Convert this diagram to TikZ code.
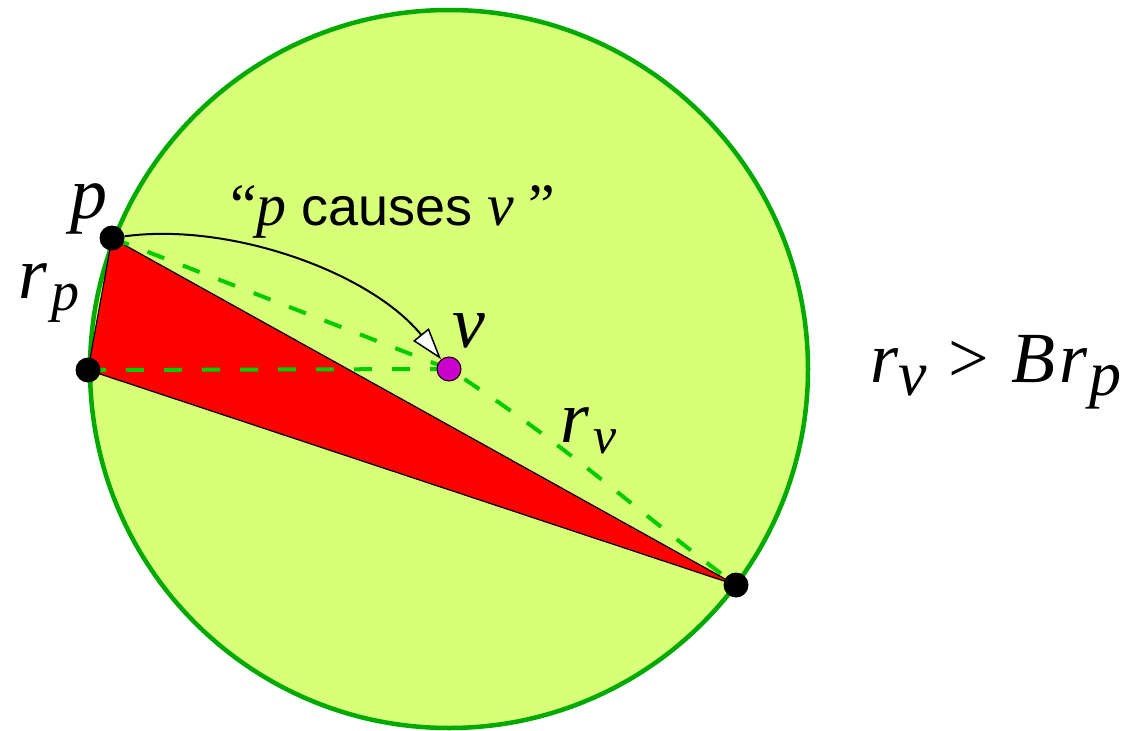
\documentclass[tikz,border=0pt]{standalone}
\usepackage{fontspec}
\setmainfont{Liberation Serif}
\newfontfamily\causefont{Liberation Sans}
\usepackage{tikz}
\usetikzlibrary{arrows.meta,backgrounds}
\definecolor{cDisk}{HTML}{D7FF78}
\definecolor{cRim}{HTML}{00AA00}
\definecolor{cDash}{HTML}{00CC00}
\definecolor{cVert}{HTML}{CC00CC}

\begin{document}
\begin{tikzpicture}[
  x=1pt, y=-1pt,
  every node/.style={inner sep=0pt},
  ptdot/.style={circle, fill=black, minimum size=25pt},
  vdot/.style={circle, draw=black, line width=1pt, fill=cVert, minimum size=24pt},
  biglbl/.style={font=\fontsize{74}{80}\selectfont, anchor=base west},
  eqlbl/.style={font=\fontsize{72}{78}\selectfont, anchor=base west},
  guess/.style={cDash, line width=4pt, dash pattern=on 18pt off 20pt},
  causearr/.style={-{Triangle[length=32pt, width=20pt, fill=white, line width=1.5pt]}, line width=2pt},
]
  \useasboundingbox (0,0) rectangle (1141,731);

  \node[ptdot] (p) at (112,238) {};
  \node[ptdot] (a) at (88,370) {};
  \node[ptdot] (c) at (736,585) {};
  \node[vdot]  (v) at (449,369) {};

  \begin{scope}[on background layer]
    \draw[cRim, fill=cDisk, line width=4.5pt] (449,369) circle (359);
    \draw[fill=red, line width=1.2pt] (p.center) -- (a.center) -- (c.center) -- cycle;
    \draw[guess] (a.center) -- (v.center);
    \draw[guess] (p.center) -- (v.center) to[out=-33, in=143] (c.center);
  \end{scope}

  \draw[causearr] (p) .. controls (230,222) and (370,272) .. (v);

  \node[biglbl] (plbl) at (70,218) {\textit{p}};
  \node[biglbl] (rplbl) at (18,298) {\textit{r}\kern4pt\raisebox{-12pt}{\fontsize{56}{60}\selectfont\textit{p}}};
  \node[biglbl] (vlbl) at (452,347) {\textit{v}};
  \node[biglbl] (rvlbl) at (560,442) {\textit{r}\kern4pt\raisebox{-11pt}{\fontsize{52}{60}\selectfont\textit{v}}};
  \node[anchor=base west, font=\fontsize{60}{64}\selectfont] (cause) at (230,225)
    {``\textit{p} {\causefont\fontsize{54}{60}\selectfont causes} \textit{v}\kern14pt''};
  \node[eqlbl] (cond) at (870,382)
    {\textit{r}\raisebox{-13pt}{\fontsize{64}{60}\selectfont\textit{v}}\kern22pt>\kern22pt\textit{B}\kern4pt\textit{r}\kern2pt\raisebox{-13pt}{\fontsize{64}{60}\selectfont\textit{p}}};
\end{tikzpicture}
\end{document}
